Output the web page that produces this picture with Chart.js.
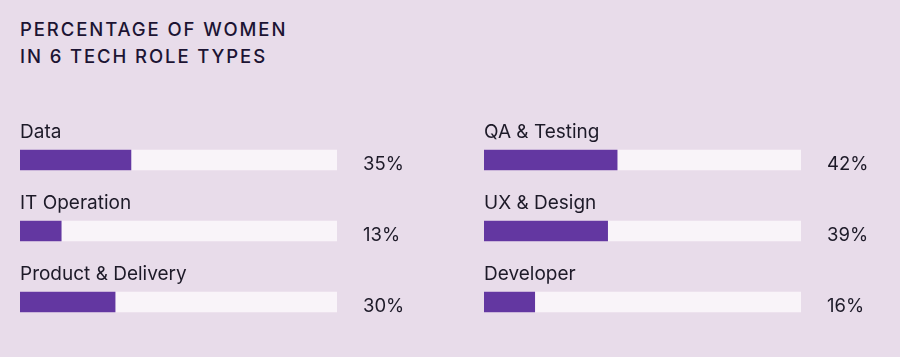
<!DOCTYPE html>
<html><head><meta charset="utf-8">
<script src="https://cdn.jsdelivr.net/npm/chart.js@4.4.1/dist/chart.umd.min.js"></script>
<style>
html,body{margin:0;padding:0;background:#e8dcea;width:900px;height:357px;overflow:hidden;font-family:Inter,"DejaVu Sans",sans-serif;}
#title{position:absolute;left:20px;top:16px;font-size:18.5px;line-height:27px;font-weight:500;letter-spacing:1.9px;color:#1c1433;}
.wrap{position:absolute;top:0;width:450px;height:357px;}
</style></head><body>
<div id="title">PERCENTAGE OF WOMEN<br>IN 6 TECH ROLE TYPES</div>
<div class="wrap" style="left:0"><canvas id="c1"></canvas></div>
<div class="wrap" style="left:450px"><canvas id="c2"></canvas></div>
<script>
const leftCategories = ["Data", "IT Operation", "Product & Delivery"];
const leftValues = [35, 13, 30];
const rightCategories = ["QA & Testing", "UX & Design", "Developer"];
const rightValues = [42, 39, 16];
const maxValue = 100;

const labelPlugin = {
  id: 'labelPlugin',
  afterDatasetsDraw(chart) {
    const ctx = chart.ctx;
    const meta = chart.getDatasetMeta(1);
    const area = chart.chartArea;
    ctx.save();
    ctx.fillStyle = '#1d1a28';
    ctx.textBaseline = 'alphabetic';
    ctx.textAlign = 'left';
    meta.data.forEach((bar, i) => {
      ctx.font = '400 19px Inter, "DejaVu Sans", sans-serif';
      ctx.fillText(chart.data.labels[i], area.left, bar.y - 22);
      ctx.font = '400 18.5px Inter, "DejaVu Sans", sans-serif';
      ctx.fillText(chart.data.datasets[0].data[i] + '%', area.right + 26, bar.y + 10);
    });
    ctx.restore();
  }
};

function makeChart(id, cats, vals, padLeft, padRight) {
  return new Chart(document.getElementById(id), {
    type: 'bar',
    data: {
      labels: cats,
      datasets: [
        { data: vals, backgroundColor: '#6337a1', barThickness: 20, order: 0 },
        { data: cats.map(() => maxValue), backgroundColor: '#f9f4f9', barThickness: 20, order: 1 }
      ]
    },
    options: {
      indexAxis: 'y',
      responsive: true,
      maintainAspectRatio: false,
      animation: false,
      events: [],
      layout: { padding: { left: padLeft, right: padRight, top: 124.5, bottom: 19.5 } },
      plugins: { legend: { display: false }, tooltip: { enabled: false }, title: { display: false } },
      datasets: { bar: { grouped: false } },
      scales: {
        x: { display: false, min: 0, max: maxValue },
        y: { display: false }
      }
    },
    plugins: [labelPlugin]
  });
}
makeChart('c1', leftCategories, leftValues, 20, 113);
makeChart('c2', rightCategories, rightValues, 34, 99);
</script>
</body></html>
